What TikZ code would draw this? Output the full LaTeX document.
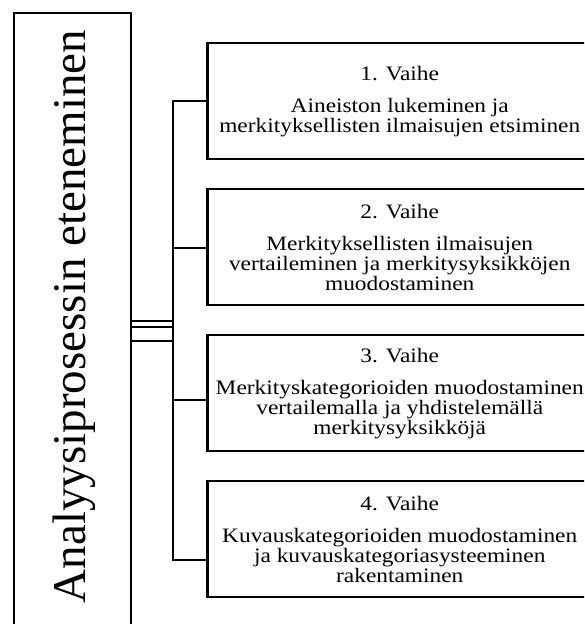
\documentclass[tikz,border=0pt]{standalone}
\usepackage{fontspec}
\setmainfont{Liberation Serif}
\newfontfamily\boxfont[FakeStretch=1.14]{Liberation Serif}
\tikzset{
  frame/.style={draw, line width=2.2pt, rectangle, inner sep=0pt},
  stagebox/.style={frame, minimum width=384.5pt, minimum height=116pt,
    align=center, font=\boxfont\fontsize{20.5}{20}\selectfont},
  conn/.style={line width=2.2pt},
  biglabel/.style={rotate=90, anchor=base, inner sep=0pt,
    font=\fontsize{47}{47}\selectfont}
}
\begin{document}
\begin{tikzpicture}[x=1pt,y=1pt]
\useasboundingbox (0,0) rectangle (584,624);
\clip (0,0) rectangle (584,624);
\fill[white] (0,0) rectangle (584,624);
% left box
\node[frame, minimum width=117pt, minimum height=631pt] (main) at (72.5,295.2) {};
\node[biglabel] (label) at (85,307.5) {Analyysiprosessin eteneminen};
% stage boxes
\node[stagebox] (s1) at (399.75,522.7) {1. Vaihe\\[12pt]Aineiston lukeminen ja\\merkityksellisten ilmaisujen etsiminen};
\node[stagebox] (s2) at (399.75,376.8) {2. Vaihe\\[12pt]Merkityksellisten ilmaisujen\\vertaileminen ja merkitysyksikköjen\\muodostaminen};
\node[stagebox] (s3) at (399.75,230.7) {3. Vaihe\\[12pt]Merkityskategorioiden muodostaminen\\vertailemalla ja yhdistelemällä\\merkitysyksikköjä};
\node[stagebox] (s4) at (399.75,84.7) {4. Vaihe\\[12pt]Kuvauskategorioiden muodostaminen\\ja kuvauskategoriasysteeminen\\rakentaminen};
% junction coordinates
\coordinate (b1) at (173.3,523);
\coordinate (b2) at (173.3,376);
\coordinate (b3) at (173.3,224);
\coordinate (b4) at (173.3,64);
\draw[conn, line cap=rect] (b1) -- (b4);
\draw[conn] (b1) -- (b1 -| s1.west);
\draw[conn] (b2) -- (b2 -| s2.west);
\draw[conn] (b3) -- (b3 -| s3.west);
\draw[conn] (b4) -- (b4 -| s4.west);
% triple connector from main box
\foreach \yy in {303.3,296.7,283.3}{
  \draw[conn] (main.east |- 0,\yy) -- (b1 |- 0,\yy);
}
\end{tikzpicture}
\end{document}
